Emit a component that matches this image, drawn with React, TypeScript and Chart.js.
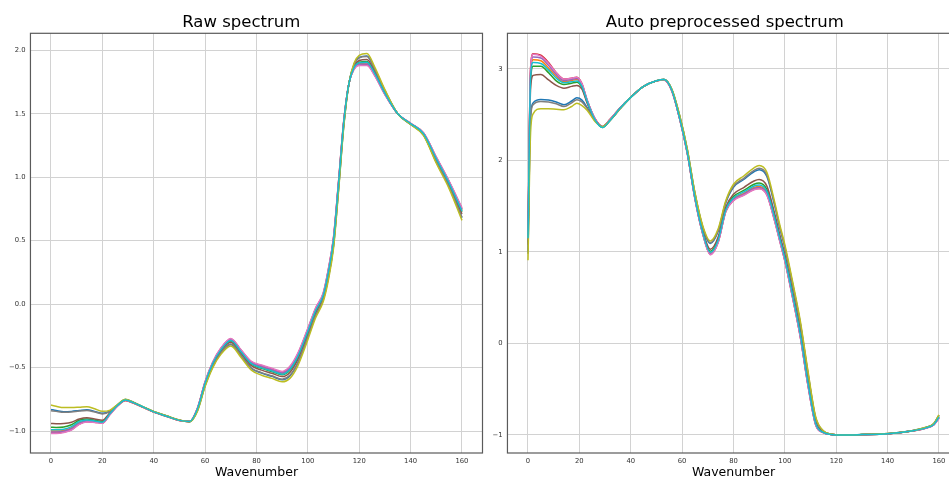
import React, { useEffect, useRef } from "react";
import { Chart, registerables } from "chart.js";

Chart.register(...registerables);

const FONT = "'DejaVu Sans', 'Liberation Sans', sans-serif";

// matplotlib tab10 order: blue, orange, green, red, purple, brown, pink, gray, olive, cyan
const COLORS = ["#1f77b4", "#ff7f0e", "#2ca02c", "#d62728", "#9467bd", "#8c564b", "#e377c2", "#7f7f7f", "#bcbd22", "#17becf"];
const SAMPLE_NAMES = ["S1", "S2", "S3", "S4", "S5", "S6", "S7", "S8", "S9", "S10"];

const X_TICKS = [0, 20, 40, 60, 80, 100, 120, 140, 160];
const RAW_Y_TICKS = [-1.0, -0.5, 0.0, 0.5, 1.0, 1.5, 2.0];
const PRE_Y_TICKS = [-1, 0, 1, 2, 3];

// ---------- Raw spectrum ----------
const RAW_X = [0, 2, 5, 8, 11, 14, 17, 20, 23, 26, 29, 32, 36, 40, 45, 50, 54, 57, 60, 63, 66, 70, 74, 78, 82, 86, 90, 93, 96, 100, 103, 106, 108, 110, 112, 114, 116, 118, 120, 123, 126, 130, 135, 140, 145, 150, 155, 160];

const RAW_BLUE = [-0.830, -0.838, -0.848, -0.845, -0.838, -0.832, -0.845, -0.860, -0.842, -0.791, -0.751, -0.773, -0.811, -0.847, -0.881, -0.914, -0.926, -0.840, -0.642, -0.491, -0.390, -0.318, -0.408, -0.506, -0.544, -0.569, -0.596, -0.566, -0.470, -0.262, -0.094, 0.034, 0.208, 0.458, 0.916, 1.410, 1.740, 1.890, 1.944, 1.956, 1.856, 1.682, 1.500, 1.417, 1.334, 1.120, 0.922, 0.680];
const RAW_ORANGE = [-1.000, -1.000, -0.995, -0.975, -0.935, -0.918, -0.925, -0.933, -0.864, -0.798, -0.760, -0.779, -0.815, -0.851, -0.885, -0.918, -0.925, -0.825, -0.618, -0.464, -0.360, -0.282, -0.372, -0.464, -0.496, -0.521, -0.546, -0.509, -0.410, -0.208, -0.046, 0.076, 0.262, 0.512, 0.964, 1.440, 1.740, 1.860, 1.896, 1.899, 1.814, 1.658, 1.500, 1.423, 1.346, 1.150, 0.958, 0.740];
const RAW_GREEN = [-0.970, -0.972, -0.968, -0.950, -0.915, -0.905, -0.915, -0.925, -0.860, -0.796, -0.755, -0.776, -0.812, -0.848, -0.882, -0.916, -0.925, -0.828, -0.623, -0.470, -0.367, -0.290, -0.380, -0.473, -0.506, -0.532, -0.557, -0.521, -0.423, -0.220, -0.056, 0.067, 0.250, 0.500, 0.954, 1.434, 1.740, 1.867, 1.907, 1.912, 1.823, 1.663, 1.500, 1.422, 1.344, 1.143, 0.950, 0.727];
const RAW_RED = [-1.015, -1.015, -1.008, -0.988, -0.945, -0.926, -0.930, -0.937, -0.868, -0.800, -0.760, -0.778, -0.814, -0.850, -0.884, -0.917, -0.924, -0.822, -0.613, -0.458, -0.353, -0.274, -0.364, -0.455, -0.485, -0.511, -0.536, -0.496, -0.397, -0.196, -0.036, 0.085, 0.274, 0.524, 0.975, 1.446, 1.740, 1.854, 1.886, 1.887, 1.805, 1.653, 1.500, 1.424, 1.349, 1.157, 0.966, 0.753];
const RAW_PURPLE = [-1.008, -1.008, -1.002, -0.982, -0.940, -0.922, -0.928, -0.935, -0.866, -0.799, -0.757, -0.777, -0.813, -0.849, -0.883, -0.916, -0.924, -0.823, -0.615, -0.461, -0.357, -0.278, -0.368, -0.459, -0.490, -0.516, -0.541, -0.502, -0.403, -0.202, -0.040, 0.081, 0.268, 0.518, 0.970, 1.443, 1.740, 1.857, 1.891, 1.892, 1.809, 1.655, 1.500, 1.424, 1.348, 1.154, 0.962, 0.747];
const RAW_BROWN = [-0.940, -0.942, -0.940, -0.930, -0.905, -0.895, -0.905, -0.915, -0.855, -0.795, -0.754, -0.775, -0.812, -0.848, -0.882, -0.915, -0.925, -0.832, -0.630, -0.478, -0.375, -0.300, -0.390, -0.485, -0.520, -0.545, -0.571, -0.538, -0.440, -0.235, -0.070, 0.055, 0.235, 0.485, 0.940, 1.425, 1.740, 1.875, 1.920, 1.928, 1.835, 1.670, 1.500, 1.420, 1.340, 1.135, 0.940, 0.710];
const RAW_PINK = [-1.020, -1.020, -1.012, -0.992, -0.948, -0.928, -0.932, -0.938, -0.870, -0.800, -0.758, -0.778, -0.814, -0.850, -0.884, -0.917, -0.924, -0.820, -0.610, -0.455, -0.350, -0.270, -0.360, -0.450, -0.480, -0.505, -0.530, -0.490, -0.390, -0.190, -0.030, 0.090, 0.280, 0.530, 0.980, 1.450, 1.740, 1.850, 1.880, 1.880, 1.800, 1.650, 1.500, 1.425, 1.350, 1.160, 0.970, 0.760];
const RAW_GRAY = [-0.840, -0.845, -0.852, -0.850, -0.842, -0.838, -0.850, -0.865, -0.845, -0.792, -0.752, -0.773, -0.811, -0.847, -0.881, -0.914, -0.926, -0.838, -0.640, -0.489, -0.388, -0.315, -0.405, -0.503, -0.540, -0.565, -0.591, -0.561, -0.465, -0.258, -0.090, 0.038, 0.213, 0.463, 0.920, 1.413, 1.740, 1.888, 1.940, 1.951, 1.853, 1.680, 1.500, 1.418, 1.335, 1.123, 0.925, 0.685];
const RAW_OLIVE = [-0.795, -0.805, -0.815, -0.815, -0.812, -0.808, -0.825, -0.845, -0.835, -0.790, -0.750, -0.772, -0.810, -0.846, -0.880, -0.913, -0.926, -0.845, -0.650, -0.500, -0.400, -0.330, -0.420, -0.520, -0.560, -0.585, -0.612, -0.585, -0.490, -0.280, -0.110, 0.020, 0.190, 0.440, 0.900, 1.400, 1.740, 1.900, 1.960, 1.975, 1.870, 1.690, 1.500, 1.415, 1.330, 1.110, 0.910, 0.660];
const RAW_CYAN = [-0.990, -0.990, -0.985, -0.965, -0.925, -0.912, -0.920, -0.930, -0.862, -0.797, -0.756, -0.776, -0.812, -0.849, -0.883, -0.916, -0.925, -0.827, -0.621, -0.467, -0.364, -0.286, -0.376, -0.469, -0.502, -0.527, -0.552, -0.515, -0.416, -0.214, -0.052, 0.071, 0.256, 0.506, 0.959, 1.437, 1.740, 1.863, 1.902, 1.906, 1.819, 1.661, 1.500, 1.423, 1.345, 1.147, 0.954, 0.733];

// ---------- Auto preprocessed spectrum ----------
const PRE_X = [0, 1, 2, 5, 8, 11, 14, 17, 19, 21, 23, 26, 29, 32, 36, 40, 45, 50, 53, 56, 59, 62, 65, 68, 71, 74, 77, 80, 84, 88, 90, 93, 96, 98, 100, 103, 106, 109, 112, 115, 118, 122, 130, 140, 150, 155, 158, 160];

const PRE_BLUE = [1.00, 2.48, 2.63, 2.667, 2.66, 2.64, 2.61, 2.65, 2.685, 2.66, 2.58, 2.44, 2.37, 2.44, 2.57, 2.69, 2.81, 2.87, 2.885, 2.775, 2.493, 2.121, 1.637, 1.274, 1.093, 1.223, 1.538, 1.708, 1.792, 1.877, 1.90, 1.825, 1.512, 1.268, 1.048, 0.648, 0.218, -0.329, -0.816, -0.959, -0.991, -1.0, -0.995, -0.986, -0.951, -0.917, -0.878, -0.785];
const PRE_ORANGE = [1.12, 2.94, 3.10, 3.09, 3.01, 2.92, 2.86, 2.875, 2.885, 2.82, 2.65, 2.46, 2.37, 2.45, 2.58, 2.69, 2.81, 2.87, 2.882, 2.762, 2.464, 2.085, 1.587, 1.209, 0.985, 1.115, 1.452, 1.578, 1.641, 1.704, 1.716, 1.645, 1.361, 1.138, 0.918, 0.518, 0.088, -0.444, -0.881, -0.973, -0.995, -1.0, -0.997, -0.988, -0.954, -0.922, -0.886, -0.81];
const PRE_GREEN = [1.10, 2.87, 3.03, 3.03, 2.96, 2.87, 2.83, 2.845, 2.855, 2.80, 2.64, 2.45, 2.36, 2.44, 2.575, 2.69, 2.81, 2.872, 2.886, 2.77, 2.47, 2.093, 1.598, 1.223, 1.008, 1.138, 1.47, 1.605, 1.673, 1.74, 1.754, 1.683, 1.393, 1.165, 0.945, 0.545, 0.115, -0.42, -0.868, -0.97, -0.994, -1.0, -0.996, -0.987, -0.953, -0.921, -0.884, -0.80];
const PRE_RED = [1.16, 3.01, 3.166, 3.15, 3.07, 2.96, 2.89, 2.90, 2.91, 2.84, 2.66, 2.46, 2.37, 2.45, 2.58, 2.69, 2.81, 2.87, 2.88, 2.76, 2.46, 2.08, 1.581, 1.202, 0.973, 1.103, 1.442, 1.564, 1.624, 1.685, 1.695, 1.625, 1.344, 1.124, 0.904, 0.504, 0.074, -0.457, -0.888, -0.975, -0.995, -1.0, -0.997, -0.988, -0.955, -0.924, -0.888, -0.815];
const PRE_PURPLE = [1.13, 2.97, 3.13, 3.12, 3.04, 2.94, 2.875, 2.885, 2.895, 2.83, 2.66, 2.46, 2.37, 2.45, 2.58, 2.69, 2.81, 2.87, 2.882, 2.762, 2.462, 2.083, 1.584, 1.205, 0.979, 1.109, 1.447, 1.571, 1.633, 1.694, 1.705, 1.635, 1.353, 1.131, 0.911, 0.511, 0.081, -0.45, -0.885, -0.974, -0.995, -1.0, -0.997, -0.988, -0.954, -0.923, -0.887, -0.812];
const PRE_BROWN = [1.08, 2.78, 2.93, 2.94, 2.88, 2.82, 2.79, 2.81, 2.82, 2.78, 2.63, 2.45, 2.37, 2.44, 2.575, 2.69, 2.81, 2.87, 2.884, 2.77, 2.476, 2.10, 1.608, 1.236, 1.03, 1.16, 1.488, 1.632, 1.704, 1.776, 1.792, 1.72, 1.424, 1.192, 0.972, 0.572, 0.142, -0.396, -0.854, -0.967, -0.993, -1.0, -0.996, -0.987, -0.953, -0.92, -0.883, -0.80];
const PRE_PINK = [1.15, 3.00, 3.16, 3.14, 3.06, 2.96, 2.89, 2.90, 2.91, 2.84, 2.66, 2.46, 2.37, 2.45, 2.58, 2.69, 2.81, 2.87, 2.88, 2.76, 2.46, 2.08, 1.58, 1.20, 0.97, 1.10, 1.44, 1.56, 1.62, 1.68, 1.69, 1.62, 1.34, 1.12, 0.90, 0.50, 0.07, -0.46, -0.89, -0.975, -0.995, -1.0, -0.997, -0.988, -0.955, -0.925, -0.89, -0.82];
const PRE_GRAY = [0.98, 2.45, 2.61, 2.645, 2.64, 2.62, 2.59, 2.63, 2.665, 2.64, 2.57, 2.44, 2.37, 2.44, 2.57, 2.69, 2.81, 2.87, 2.885, 2.776, 2.495, 2.124, 1.642, 1.279, 1.102, 1.232, 1.546, 1.718, 1.805, 1.891, 1.914, 1.84, 1.525, 1.278, 1.058, 0.658, 0.228, -0.319, -0.811, -0.958, -0.991, -1.0, -0.995, -0.985, -0.95, -0.916, -0.876, -0.782];
const PRE_OLIVE = [0.91, 2.30, 2.51, 2.565, 2.565, 2.56, 2.555, 2.59, 2.626, 2.60, 2.55, 2.43, 2.37, 2.44, 2.57, 2.69, 2.81, 2.87, 2.885, 2.78, 2.50, 2.13, 1.65, 1.29, 1.12, 1.25, 1.56, 1.74, 1.83, 1.92, 1.945, 1.87, 1.55, 1.30, 1.08, 0.68, 0.25, -0.30, -0.80, -0.955, -0.99, -1.0, -0.995, -0.985, -0.95, -0.915, -0.875, -0.78];
const PRE_CYAN = [1.15, 2.91, 3.07, 3.06, 2.99, 2.90, 2.85, 2.86, 2.87, 2.81, 2.65, 2.45, 2.36, 2.44, 2.575, 2.69, 2.81, 2.872, 2.886, 2.768, 2.466, 2.088, 1.592, 1.215, 0.996, 1.126, 1.46, 1.591, 1.656, 1.721, 1.733, 1.663, 1.376, 1.151, 0.931, 0.531, 0.101, -0.433, -0.875, -0.972, -0.994, -1.0, -0.996, -0.987, -0.953, -0.922, -0.885, -0.805];

const RAW_SERIES = [RAW_BLUE, RAW_ORANGE, RAW_GREEN, RAW_RED, RAW_PURPLE, RAW_BROWN, RAW_PINK, RAW_GRAY, RAW_OLIVE, RAW_CYAN];
const PRE_SERIES = [PRE_BLUE, PRE_ORANGE, PRE_GREEN, PRE_RED, PRE_PURPLE, PRE_BROWN, PRE_PINK, PRE_GRAY, PRE_OLIVE, PRE_CYAN];

const fmtNum = (v: number, decimals: number) => {
  const s = Math.abs(v).toFixed(decimals);
  return v < -1e-9 ? "\u2212" + s : s;
};

const framePlugin = {
  id: "frame",
  afterDatasetsDraw(chart: any) {
    const { ctx, chartArea } = chart;
    const { left, right, top, bottom } = chartArea;
    ctx.save();
    ctx.strokeStyle = "#5a5a5a";
    ctx.lineWidth = 1.2;
    ctx.strokeRect(left, top, right - left, bottom - top);
    ctx.restore();
  },
};

type PanelProps = {
  title: string;
  xs: number[];
  series: number[][];
  yMin: number;
  yMax: number;
  yTicks: number[];
  decimals: number;
  axisWidth: number;
  padRight: number;
  width: number;
  left: number;
};

function SpectrumPanel(p: PanelProps) {
  const ref = useRef<HTMLCanvasElement>(null);
  useEffect(() => {
    if (!ref.current) return;
    const n = p.series.length;
    const chart = new Chart(ref.current, {
      type: "line",
      data: {
        datasets: p.series.map((ys, i) => ({
          label: SAMPLE_NAMES[i],
          data: p.xs.map((x, j) => ({ x, y: ys[j] })),
          borderColor: COLORS[i],
          backgroundColor: COLORS[i],
          borderWidth: 1.5,
          pointRadius: 0,
          fill: false,
          cubicInterpolationMode: "monotone" as const,
          order: n - 1 - i,
        })),
      },
      options: {
        responsive: false,
        maintainAspectRatio: false,
        animation: false,
        events: [],
        layout: { padding: { top: 0, right: p.padRight, bottom: 0, left: 0 } },
        plugins: {
          legend: { display: false },
          tooltip: { enabled: false },
          title: {
            display: true,
            text: p.title,
            color: "#000",
            font: { family: FONT, size: 16.5, weight: "normal" as const, lineHeight: 1.2 },
            padding: { top: 13, bottom: 0.5 },
          },
        },
        scales: {
          x: {
            type: "linear",
            min: -8,
            max: 168,
            afterBuildTicks: (scale: any) => {
              scale.ticks = X_TICKS.map((v) => ({ value: v }));
            },
            ticks: {
              color: "#333",
              font: { family: FONT, size: 6.8 },
              padding: 4.5,
              maxRotation: 0,
              autoSkip: false,
              callback: (v: any) => String(v),
            },
            grid: { color: "#d2d2d2", lineWidth: 1, drawTicks: false },
            border: { display: false },
            title: {
              display: true,
              text: "Wavenumber",
              color: "#000",
              font: { family: FONT, size: 12.5, lineHeight: 0.95 },
              padding: 0,
            },
            afterFit: (scale: any) => {
              scale.height = 26;
            },
          },
          y: {
            type: "linear",
            min: p.yMin,
            max: p.yMax,
            afterBuildTicks: (scale: any) => {
              scale.ticks = p.yTicks.map((v) => ({ value: v }));
            },
            ticks: {
              color: "#333",
              font: { family: FONT, size: 6.8 },
              padding: 5,
              autoSkip: false,
              callback: (v: any) => fmtNum(Number(v), p.decimals),
            },
            grid: { color: "#d2d2d2", lineWidth: 1, drawTicks: false },
            border: { display: false },
            afterFit: (scale: any) => {
              scale.width = p.axisWidth;
            },
          },
        },
      },
      plugins: [framePlugin],
    } as any);
    return () => chart.destroy();
  }, []);
  return (
    <canvas
      ref={ref}
      width={p.width}
      height={479}
      style={{ position: "absolute", left: p.left, top: 0, width: p.width, height: 479 }}
    />
  );
}

export default function App() {
  return (
    <div
      style={{
        position: "fixed",
        left: 0,
        top: 0,
        width: 949,
        height: 479,
        overflow: "hidden",
        background: "#ffffff",
      }}
    >
      <SpectrumPanel
        title="Raw spectrum"
        xs={RAW_X}
        series={RAW_SERIES}
        yMin={-1.173}
        yMax={2.134}
        yTicks={RAW_Y_TICKS}
        decimals={1}
        axisWidth={30.45}
        padRight={7.5}
        width={490}
        left={0}
      />
      <SpectrumPanel
        title="Auto preprocessed spectrum"
        xs={PRE_X}
        series={PRE_SERIES}
        yMin={-1.197}
        yMax={3.39}
        yTicks={PRE_Y_TICKS}
        decimals={0}
        axisWidth={17.45}
        padRight={10.5}
        width={480}
        left={490}
      />
    </div>
  );
}
